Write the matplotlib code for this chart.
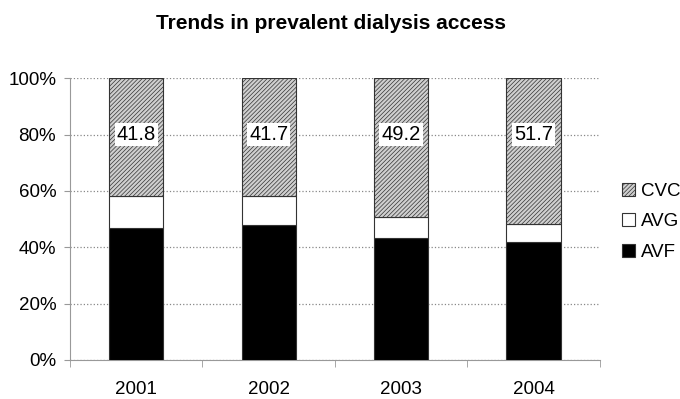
import matplotlib.pyplot as plt
import numpy as np

years = ["2001", "2002", "2003", "2004"]
avf = [46.7, 48.0, 43.1, 41.7]
avg = [11.5, 10.3, 7.7, 6.6]
cvc = [41.8, 41.7, 49.2, 51.7]

plt.rcParams['font.family'] = ['Liberation Sans', 'DejaVu Sans']
plt.rcParams['hatch.color'] = '#666666'
plt.rcParams['hatch.linewidth'] = 0.5

fig = plt.figure(figsize=(6.8, 3.99), dpi=100)
ax = fig.add_axes([0.103, 0.098, 0.779, 0.706])

x = np.arange(len(years))
w = 0.41
avf_b = ax.bar(x, avf, w, color='black', edgecolor='#333333', linewidth=0.8, label='AVF', zorder=3)
avg_b = ax.bar(x, avg, w, bottom=avf, color='white', edgecolor='#333333', linewidth=0.8, label='AVG', zorder=3)
base = np.array(avf) + np.array(avg)
cvc_b = ax.bar(x, cvc, w, bottom=base, color='#cfcfcf', edgecolor='#333333', linewidth=0.8,
               hatch='////////', label='CVC', zorder=3)

for xi, v in zip(x, cvc):
    ax.text(xi, 80, f"{v:.1f}", ha='center', va='center', fontsize=14.5, zorder=4,
            bbox=dict(facecolor='white', edgecolor='none', pad=1.5))

ax.set_xlim(-0.5, len(years) - 0.5)
ax.set_ylim(0, 100)
ax.set_yticks(np.arange(0, 101, 20))
ax.set_yticklabels([f"{t}%" for t in range(0, 101, 20)], fontsize=13.5)
ax.set_xticks(x)
ax.set_xticklabels(years, fontsize=13.5)
ax.set_xticks(np.arange(-0.5, len(years)), minor=True)
ax.tick_params(axis='x', which='major', length=0, pad=15)
ax.tick_params(axis='x', which='minor', length=5, color='#999999')
ax.tick_params(axis='y', length=4, color='#999999', pad=6)
ax.yaxis.grid(True, linestyle=':', color='#888888', linewidth=0.9, zorder=0)
ax.set_axisbelow(True)
for s in ['top', 'right']:
    ax.spines[s].set_visible(False)
for s in ['left', 'bottom']:
    ax.spines[s].set_color('#999999')

ax.legend(handles=[cvc_b, avg_b, avf_b], loc='center left', bbox_to_anchor=(1.01, 0.49),
          frameon=False, fontsize=13.5, handlelength=0.7, handleheight=0.7,
          handletextpad=0.3, labelspacing=0.72)

fig.text(0.487, 0.942, "Trends in prevalent dialysis access", ha='center', va='center',
         fontsize=15, fontweight='bold')

fig.savefig("out.png", dpi=100)
